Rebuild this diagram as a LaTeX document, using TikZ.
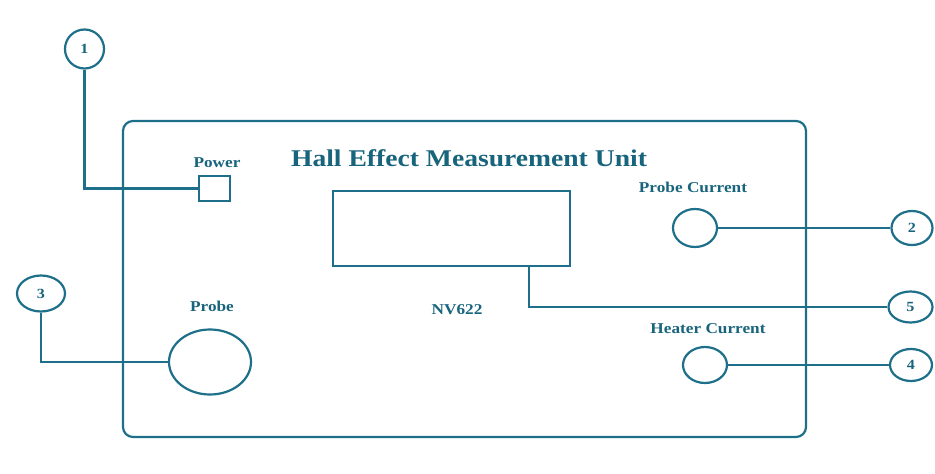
\documentclass[tikz,border=0pt]{standalone}
\usepackage{fontspec}
\usetikzlibrary{shapes.geometric}
\newfontfamily\lblfont[FakeStretch=1.15]{Liberation Serif}
\definecolor{teal1}{RGB}{30,112,138}
\definecolor{tealtxt}{RGB}{24,100,124}
\begin{document}
\begin{tikzpicture}[x=1pt,y=-1pt,
  every path/.style={draw=teal1,line width=2.2pt},
  part/.style={draw=teal1,line width=2.2pt,inner sep=0pt},
  oval/.style={part,ellipse},
  callout/.style={part,ellipse,font=\lblfont\bfseries\fontsize{14}{16}\selectfont,text=tealtxt},
  lbl/.style={inner sep=0pt,font=\lblfont\bfseries\fontsize{15}{17}\selectfont,text=tealtxt}]
\useasboundingbox[fill=white,draw=none] (0,0) rectangle (935,474);
% main unit
\node[part,rounded corners=10pt,minimum width=683pt,minimum height=316pt] (unit) at (464.5,279) {};
\node[inner sep=0pt,font=\lblfont\bfseries\fontsize{24}{28}\selectfont,text=tealtxt] (title) at (469,158) {Hall Effect Measurement Unit};
% power
\node[lbl] (powerlbl) at (217,163) {Power};
\node[part,minimum width=31pt,minimum height=25pt] (pwr) at (214.5,188.5) {};
% display
\node[part,minimum width=237pt,minimum height=75pt] (disp) at (451.5,228.5) {};
\node[lbl] (nv) at (457,310) {NV622};
% probe
\node[lbl] (probelbl) at (212,306) {Probe};
\node[oval,minimum width=82pt,minimum height=65pt] (probe) at (210,362) {};
% probe current
\node[lbl] (pclbl) at (693,187) {Probe Current};
\node[oval,minimum width=44pt,minimum height=38pt] (pc) at (695,228) {};
% heater current
\node[lbl] (hclbl) at (708,329) {Heater Current};
\node[oval,minimum width=44pt,minimum height=36pt] (hc) at (705,365) {};
% callouts
\node[callout,circle,minimum size=39pt] (c1) at (84.5,49) {1};
\node[callout,minimum width=41pt,minimum height=34pt] (c2) at (912,228) {2};
\node[callout,minimum width=48pt,minimum height=36pt] (c3) at (41,293.5) {3};
\node[callout,minimum width=42pt,minimum height=32pt] (c4) at (911,365) {4};
\node[callout,minimum width=44pt,minimum height=31pt] (c5) at (910.5,307) {5};
% connectors
\draw (c1.south) |- (pwr.west);
\draw (c3.south) |- (probe.west);
\draw (pc.east) -- (c2.west);
\draw (hc.east) -- (c4.west);
\coordinate (d5) at (529,266);
\draw (d5) |- (c5.west);
\end{tikzpicture}
\end{document}
